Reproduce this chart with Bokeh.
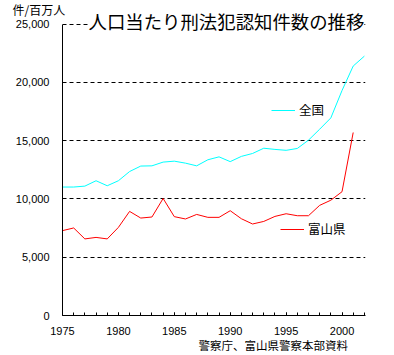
from bokeh.plotting import figure
from bokeh.models import (FixedTicker, NumeralTickFormatter, Title, Legend, LegendItem,
                          Range1d)
from bokeh.embed import file_html
from bokeh.resources import INLINE

years_all = list(range(1975, 2003))
national = [11020, 11020, 11100, 11560, 11130, 11560, 12350, 12820, 12840, 13160,
            13240, 13070, 12840, 13360, 13610, 13200, 13650, 13900, 14350, 14250,
            14170, 14330, 15040, 15980, 16950, 19300, 21400, 22250]
years_toyama = list(range(1975, 2002))
toyama = [7280, 7510, 6570, 6700, 6570, 7560, 8930, 8360, 8450, 10040,
          8480, 8280, 8670, 8420, 8420, 8990, 8300, 7850, 8070, 8500,
          8730, 8560, 8560, 9450, 9890, 10620, 15700]
x_ticks = [1975, 1980, 1985, 1990, 1995, 2000]
y_ticks = [0, 5000, 10000, 15000, 20000, 25000]
title_text = "人口当たり刑法犯認知件数の推移"
unit_text = "件/百万人"
source_text = "警察庁、富山県警察本部資料"
name_national = "全国"
name_toyama = "富山県"

p = figure(width=392, height=353, output_backend="svg", toolbar_location=None,
           title_location=None,
           x_range=Range1d(1975, 2002.1), y_range=Range1d(0, 25050),
           min_border_left=62, min_border_right=27, min_border_top=23,
           min_border_bottom=38)
p.outline_line_color = None
p.background_fill_color = "white"
p.border_fill_color = "white"

num_font = "Liberation Sans"
cjk_font = "Noto Sans CJK JP"

# axes
xa = p.xaxis[0]
xa.ticker = FixedTicker(ticks=x_ticks, minor_ticks=years_all)
xa.axis_line_color = "black"
xa.major_tick_in = 3
xa.major_tick_out = 0
xa.minor_tick_in = 3
xa.minor_tick_out = 0
xa.major_tick_line_color = "black"
xa.minor_tick_line_color = "black"
xa.major_label_standoff = 11
xa.major_label_text_font = num_font
xa.major_label_text_font_size = "11px"
xa.major_label_text_color = "black"

ya = p.yaxis[0]
ya.ticker = FixedTicker(ticks=y_ticks)
ya.formatter = NumeralTickFormatter(format="0,0")
ya.bounds = (0, 25000)
ya.axis_line_color = "black"
ya.major_tick_in = 0
ya.major_tick_out = 0
ya.minor_tick_line_color = None
ya.major_label_standoff = 13
ya.major_label_text_font = num_font
ya.major_label_text_font_size = "11px"
ya.major_label_text_color = "black"

p.xgrid.grid_line_color = None
p.ygrid.ticker = FixedTicker(ticks=y_ticks[1:])
p.ygrid.grid_line_color = "black"
p.ygrid.grid_line_dash = "4 3"
p.ygrid.grid_line_width = 1

r_nat = p.line(years_all, national, line_color="#00FFFF", line_width=1)
r_toy = p.line(years_toyama, toyama, line_color="#FF0000", line_width=1)

def add_leg(name, rend, loc):
    leg = Legend(items=[LegendItem(label=name, renderers=[rend])], location=loc,
                 border_line_color=None, background_fill_alpha=0, padding=0,
                 margin=0, glyph_width=24, glyph_height=14, label_height=14,
                 label_standoff=4, label_text_font=cjk_font,
                 label_text_font_size="12.5px", label_text_color="black")
    p.add_layout(leg, "center")

add_leg(name_national, r_nat, (209, 196))
add_leg(name_toyama, r_toy, (218, 77))

main_title = Title(text=title_text, align="left", offset=26, vertical_align="middle",
                   standoff=-22, text_font=cjk_font, text_font_size="18.4px",
                   text_font_style="normal", text_color="black",
                   background_fill_color="white")
p.add_layout(main_title, "above")

unit = Title(text=unit_text, align="left", offset=-50, vertical_align="middle",
             standoff=-2.4, text_font=cjk_font, text_font_size="12px",
             text_font_style="normal", text_color="black")
p.add_layout(unit, "above")

src = Title(text=source_text, align="left", offset=136, vertical_align="middle",
            standoff=-4, text_font=cjk_font, text_font_size="11.5px",
            text_font_style="normal", text_color="black")
p.add_layout(src, "below")

open("out.html", "w").write(file_html(p, INLINE))
